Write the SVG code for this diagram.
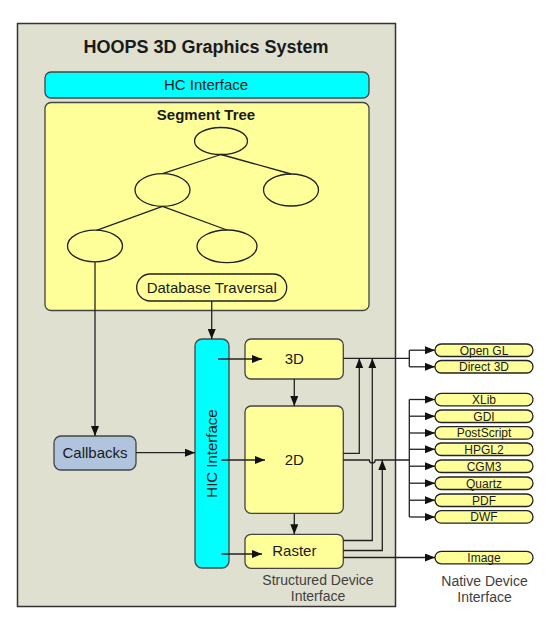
<svg xmlns="http://www.w3.org/2000/svg" width="549" height="629" viewBox="0 0 549 629">
<style>
text{font-family:"Liberation Sans",Arial,sans-serif;fill:#1a1a1a}
.t15{font-size:15px;text-anchor:middle}
.b{font-weight:bold}
.pl{font-size:12px;text-anchor:middle}
.lab{font-size:14px;text-anchor:middle;fill:#404040}
.box{stroke:#444;stroke-width:1.3}
.yel{fill:#ffff99}
.cy{fill:#00ffff}
.ell{fill:#ffff99;stroke:#222;stroke-width:1.3}
.ln{fill:none;stroke:#222;stroke-width:1.3}
.ar{fill:none;stroke:#222;stroke-width:1.3;marker-end:url(#ah)}
</style>
<defs>
<marker id="ah" markerWidth="10" markerHeight="8" refX="10" refY="4" orient="auto" markerUnits="userSpaceOnUse">
<path d="M0,0 L10,4 L0,8 z" fill="#111"/>
</marker>
</defs>
<rect width="549" height="629" fill="#fff"/>
<g id="system">
<rect x="17.5" y="23.5" width="378" height="583" fill="#e0e0d0" stroke="#333" stroke-width="1.5"/>
<text x="206" y="52.5" class="b" style="font-size:18px;text-anchor:middle">HOOPS 3D Graphics System</text>
</g>
<g id="hc-interface">
<rect x="45" y="72" width="324" height="26" rx="6" class="box cy"/>
<text x="206" y="89.5" class="t15">HC Interface</text>
</g>
<g id="segment-tree">
<rect x="45" y="102.5" width="324" height="208" rx="6" class="box yel"/>
<text x="206" y="119.5" class="t15 b">Segment Tree</text>
</g>
<g id="tree-nodes">
<ellipse id="n-root" cx="221" cy="141" rx="26.5" ry="13.5" class="ell"/>
<ellipse id="n-mid-left" cx="162.5" cy="190" rx="27.5" ry="16.3" class="ell"/>
<ellipse id="n-mid-right" cx="291" cy="190" rx="27.5" ry="16" class="ell"/>
<ellipse id="n-bot-left" cx="95" cy="246" rx="27.5" ry="15.8" class="ell"/>
<ellipse id="n-bot-right" cx="227" cy="246.3" rx="30" ry="16.3" class="ell"/>
</g>
<g id="database-traversal">
<rect x="136.7" y="274" width="150" height="27" rx="13.5" class="ell"/>
<text x="211.7" y="292.5" class="t15">Database Traversal</text>
</g>
<g id="hic-interface">
<rect x="195" y="339" width="34" height="229" rx="7" class="box cy"/>
<text x="216.5" y="453.5" class="t15" transform="rotate(-90 216.5 453.5)">HIC Interface</text>
</g>
<g id="box-3d">
<rect x="245" y="339" width="98.3" height="40" rx="6" class="box yel"/>
<text x="294.3" y="364" class="t15">3D</text>
</g>
<g id="box-2d">
<rect x="245" y="406" width="98.3" height="107.3" rx="6" class="box yel"/>
<text x="294.3" y="465" class="t15">2D</text>
</g>
<g id="box-raster">
<rect x="245" y="534.3" width="98.3" height="34" rx="6" class="box yel"/>
<text x="294.3" y="556" class="t15">Raster</text>
</g>
<g id="callbacks">
<rect x="54" y="436" width="82" height="34" rx="7" class="box" fill="#b0c4de"/>
<text x="95" y="458" class="t15">Callbacks</text>
</g>
<g id="native-devices">
<g id="opengl"><rect x="435" y="344" width="98" height="12.5" rx="6.25" class="ell"/><text x="484" y="354.5" class="pl">Open GL</text></g>
<g id="direct3d"><rect x="435" y="360.5" width="98" height="12.5" rx="6.25" class="ell"/><text x="484" y="371" class="pl">Direct 3D</text></g>
<g id="xlib"><rect x="435" y="393.3" width="98" height="12.5" rx="6.25" class="ell"/><text x="484" y="403.8" class="pl">XLib</text></g>
<g id="gdi"><rect x="435" y="410" width="98" height="12.5" rx="6.25" class="ell"/><text x="484" y="420.5" class="pl">GDI</text></g>
<g id="postscript"><rect x="435" y="426.7" width="98" height="12.5" rx="6.25" class="ell"/><text x="484" y="437.2" class="pl">PostScript</text></g>
<g id="hpgl2"><rect x="435" y="443" width="98" height="12.5" rx="6.25" class="ell"/><text x="484" y="453.5" class="pl">HPGL2</text></g>
<g id="cgm3"><rect x="435" y="460" width="98" height="12.5" rx="6.25" class="ell"/><text x="484" y="470.5" class="pl">CGM3</text></g>
<g id="quartz"><rect x="435" y="477" width="98" height="12.5" rx="6.25" class="ell"/><text x="484" y="487.5" class="pl">Quartz</text></g>
<g id="pdf"><rect x="435" y="494" width="98" height="12.5" rx="6.25" class="ell"/><text x="484" y="504.5" class="pl">PDF</text></g>
<g id="dwf"><rect x="435" y="510.7" width="98" height="12.5" rx="6.25" class="ell"/><text x="484" y="521.2" class="pl">DWF</text></g>
<g id="image"><rect x="435" y="551.3" width="98" height="12.5" rx="6.25" class="ell"/><text x="484" y="561.8" class="pl">Image</text></g>
</g>
<g id="labels">
<text class="lab"><tspan x="318" y="585">Structured Device</tspan><tspan x="318" y="601">Interface</tspan></text>
<text class="lab"><tspan x="484.5" y="586">Native Device</tspan><tspan x="484.5" y="602">Interface</tspan></text>
</g>
<g id="connectors">
<path class="ln" d="M221,154.5 L162.5,173.7 M221,154.5 L291,174 M162.5,206.3 L96.5,230.3 M162.5,206.3 L227,230"/>
<path class="ar" d="M95,261.8 V436"/>
<path class="ar" d="M211.7,301 V339"/>
<path class="ar" d="M136,452.7 H195"/>
<path class="ar" d="M218,359 H262"/>
<path class="ar" d="M221.5,460 H265"/>
<path class="ar" d="M221.5,554 H262"/>
<path class="ar" d="M294.3,379 V406"/>
<path class="ar" d="M294.3,513.3 V534.3"/>
<path class="ln" d="M343.3,358.3 H409.3 M409.3,350.2 V366.8"/>
<path class="ar" d="M409.3,350.2 H435"/>
<path class="ar" d="M409.3,366.8 H435"/>
<path class="ln" d="M343.3,460 H369.3 a3,3 0 0 0 6,0 H409.3 M409.3,399.5 V517"/>
<path class="ar" d="M409.3,399.5 H435"/>
<path class="ar" d="M409.3,416.2 H435"/>
<path class="ar" d="M409.3,433 H435"/>
<path class="ar" d="M409.3,449.3 H435"/>
<path class="ar" d="M409.3,466.2 H435"/>
<path class="ar" d="M409.3,483.2 H435"/>
<path class="ar" d="M409.3,500.2 H435"/>
<path class="ar" d="M409.3,517 H435"/>
<path class="ar" d="M343.3,453.3 H359.3 V358.3"/>
<path class="ar" d="M343.3,540.5 H372.3 V358.3"/>
<path class="ar" d="M343.3,550.5 H382.3 V460"/>
<path class="ar" d="M343.3,557.5 H435"/>
</g>
</svg>
